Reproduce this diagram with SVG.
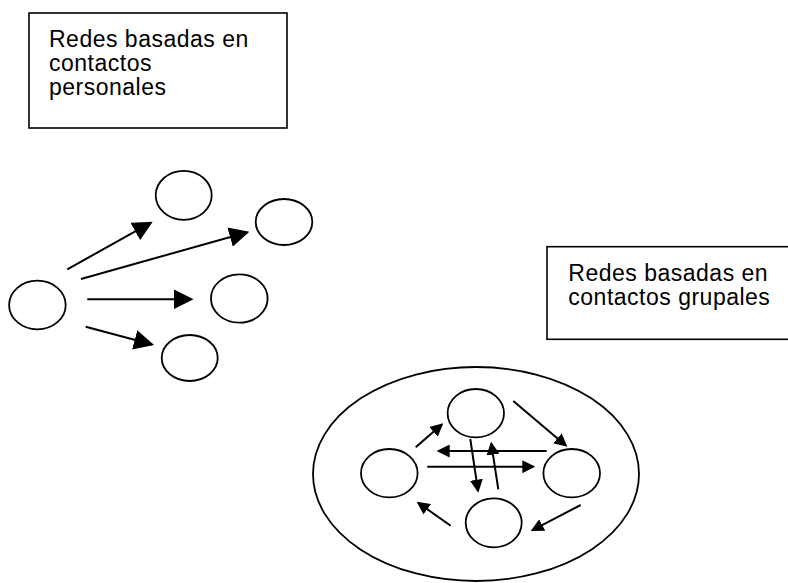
<svg xmlns="http://www.w3.org/2000/svg" width="788" height="583" viewBox="0 0 788 583">
<style>
.box{fill:#fff;stroke:#000;stroke-width:1.6}
.nd{fill:#fff;stroke:#000;stroke-width:1.8}
.lbl{font-family:"Liberation Sans",Arial,sans-serif;font-size:23px;fill:#000;letter-spacing:0.5px}
.big{stroke:#000;stroke-width:2;fill:none;marker-end:url(#hb)}
.sm{stroke:#000;stroke-width:2;fill:none;marker-end:url(#hs)}
</style>
<defs>
<marker id="hb" markerUnits="userSpaceOnUse" markerWidth="20" markerHeight="20" refX="18" refY="10" orient="auto" viewBox="0 0 20 20"><path d="M0,0 L20,10 L0,20 z" fill="#000"/></marker>
<marker id="hs" markerUnits="userSpaceOnUse" markerWidth="13" markerHeight="13" refX="11" refY="6.5" orient="auto" viewBox="0 0 13 13"><path d="M0,0 L13,6.5 L0,13 z" fill="#000"/></marker>
</defs>
<rect width="788" height="583" fill="#fff"/>
<g id="label-personales">
<rect class="box" x="29" y="13" width="258" height="115"/>
<text class="lbl" x="49" y="46.7">Redes basadas en</text>
<text class="lbl" x="49" y="71">contactos</text>
<text class="lbl" x="49" y="95">personales</text>
</g>
<g id="label-grupales">
<rect class="box" x="547" y="246.7" width="250" height="92.6"/>
<text class="lbl" x="568.3" y="280.7">Redes basadas en</text>
<text class="lbl" x="568.3" y="305">contactos grupales</text>
</g>
<g id="group-ellipse"><ellipse class="nd" cx="476" cy="474" rx="163" ry="107"/></g>
<g id="p-src"><ellipse class="nd" cx="37.4" cy="305" rx="28.3" ry="24.3"/></g>
<g id="p-1"><ellipse class="nd" cx="183.7" cy="195.3" rx="28" ry="24.5"/></g>
<g id="p-2"><ellipse class="nd" cx="284" cy="222" rx="28.3" ry="23"/></g>
<g id="p-3"><ellipse class="nd" cx="239.3" cy="298.5" rx="28.3" ry="24.2"/></g>
<g id="p-4"><ellipse class="nd" cx="189.7" cy="358" rx="28" ry="23"/></g>
<g id="g-top"><ellipse class="nd" cx="475.8" cy="413.2" rx="28.2" ry="24.2"/></g>
<g id="g-left"><ellipse class="nd" cx="389.3" cy="473.2" rx="28.3" ry="24.2"/></g>
<g id="g-right"><ellipse class="nd" cx="571.7" cy="473.2" rx="28.3" ry="24.2"/></g>
<g id="g-bottom"><ellipse class="nd" cx="493.7" cy="522.8" rx="28" ry="24.5"/></g>
<g id="connectors">
<line class="big" x1="67.3" y1="269.3" x2="150.95" y2="222.67"/>
<line class="big" x1="81" y1="279" x2="247.4" y2="232.2"/>
<line class="big" x1="87.3" y1="299.3" x2="191.5" y2="299.3"/>
<line class="big" x1="85.7" y1="326.7" x2="152.1" y2="344.5"/>
<line class="sm" x1="415.7" y1="447.3" x2="441.8" y2="424.6"/>
<line class="sm" x1="513.3" y1="401" x2="565.8" y2="445.4"/>
<line class="sm" x1="546.7" y1="451" x2="438.7" y2="451"/>
<line class="sm" x1="427.3" y1="466.7" x2="533.3" y2="466.7"/>
<line class="sm" x1="470.3" y1="439" x2="478" y2="490.7"/>
<line class="sm" x1="498.3" y1="489.3" x2="491.3" y2="443.7"/>
<line class="sm" x1="580.7" y1="505" x2="532.5" y2="530.1"/>
<line class="sm" x1="450.7" y1="525.7" x2="418.3" y2="502.9"/>
</g>
</svg>
